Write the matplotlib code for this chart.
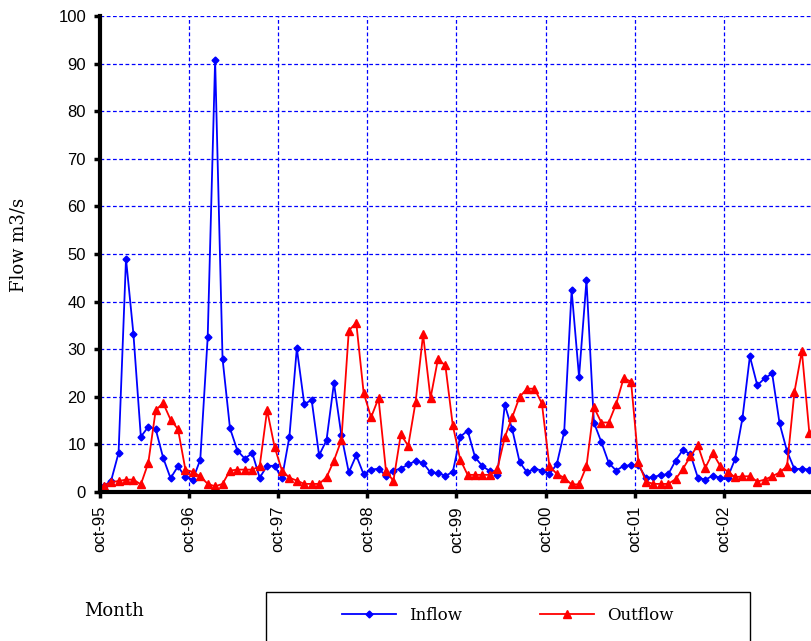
import numpy as np
import matplotlib.pyplot as plt
from matplotlib.patches import Rectangle

# monthly flows, oct-95 .. sep-03
inflow = [1.2, 2.4, 8.2, 49.0, 33.2, 11.6, 13.7, 13.2, 7.2, 2.9, 5.4, 3.1,
          2.6, 6.8, 32.5, 90.8, 28.0, 13.4, 8.7, 7.0, 8.2, 3.0, 5.5, 5.5,
          2.9, 11.6, 30.2, 18.5, 19.3, 7.7, 10.9, 22.9, 11.9, 4.1, 7.7, 3.7,
          4.7, 4.9, 3.4, 4.5, 4.9, 5.8, 6.5, 6.1, 4.1, 4.0, 3.4, 4.2,
          11.6, 12.9, 7.3, 5.4, 4.4, 3.6, 18.3, 13.2, 6.3, 4.1, 4.9, 4.5,
          3.8, 5.8, 12.6, 42.4, 24.2, 44.5, 14.6, 10.5, 6.1, 4.5, 5.5, 5.6,
          5.6, 3.0, 3.1, 3.6, 3.7, 6.6, 8.9, 7.9, 3.0, 2.6, 3.4, 3.0,
          3.0, 6.9, 15.5, 28.5, 22.4, 23.9, 24.9, 14.4, 8.6, 4.8, 4.9, 4.7]
outflow = [1.3, 2.1, 2.3, 2.6, 2.6, 1.6, 6.1, 17.2, 18.7, 15.2, 13.2, 4.7,
           4.2, 3.3, 1.7, 1.2, 1.7, 4.5, 4.7, 4.7, 4.7, 5.4, 17.2, 9.5,
           4.5, 3.0, 2.4, 1.7, 1.7, 1.7, 3.1, 6.6, 10.9, 33.9, 35.6, 20.8,
           15.7, 19.7, 4.5, 2.3, 12.1, 9.7, 19.0, 33.1, 19.7, 27.9, 26.6, 14.0,
           6.8, 3.6, 3.6, 3.6, 3.6, 4.8, 11.5, 15.7, 20.0, 21.7, 21.7, 18.6,
           5.5, 3.8, 3.0, 1.6, 1.6, 5.4, 17.8, 14.6, 14.6, 18.5, 23.9, 23.2,
           6.2, 2.2, 1.7, 1.7, 1.7, 2.7, 4.9, 7.5, 9.8, 5.1, 8.2, 5.5,
           4.3, 3.1, 3.3, 3.3, 2.2, 2.6, 3.3, 4.1, 5.4, 21.0, 29.6, 12.5]
year_labels = ['oct-95', 'oct-96', 'oct-97', 'oct-98', 'oct-99',
               'oct-00', 'oct-01', 'oct-02']

months = np.arange(len(inflow)) + 0.5

fig = plt.figure(figsize=(8.12, 6.41), dpi=100)
ax = fig.add_axes([100/812, 1 - 492/641, 713/812, 476/641])

ax.plot(months, inflow, color='#0000FF', lw=1.3, marker='D', ms=3.5,
        label='Inflow')
ax.plot(months, outflow, color='#FF0000', lw=1.3, marker='^', ms=5.5,
        label='Outflow')

ax.set_xlim(0, 96)
ax.set_ylim(0, 100)
ax.set_yticks(np.arange(0, 101, 10))
ax.set_xticks(np.arange(0, 12 * len(year_labels), 12))
ax.set_xticklabels(year_labels, rotation=90, family='Liberation Sans',
                   fontsize=12)
for lab in ax.get_yticklabels():
    lab.set_family('Liberation Sans')
    lab.set_fontsize(12)

ax.grid(True, color='#0000FF', ls=(0, (3, 2)), lw=0.9)
ax.set_axisbelow(True)
ax.spines['top'].set_visible(False)
ax.spines['right'].set_visible(False)
ax.spines['left'].set_linewidth(3)
ax.spines['bottom'].set_linewidth(3)
ax.tick_params(axis='both', direction='out', length=4, width=2.5,
               color='black', pad=6)

ax.set_ylabel('Flow m3/s', family='DejaVu Serif', fontsize=13)
ax.yaxis.set_label_coords(-72/713, 0.519)

fig.text(84/812, 1 - 611/641, 'Month', family='DejaVu Serif', fontsize=13,
         va='center', ha='left')

# legend box at the bottom
fig.patches.append(Rectangle((266/812, 1 - 660/641), 484/812, 68/641,
                             transform=fig.transFigure, fill=False,
                             edgecolor='black', lw=1))
leg = fig.legend(loc='center', bbox_to_anchor=(508/812, 1 - 615/641),
                 ncol=2, frameon=False, handlelength=3.2, columnspacing=4.7,
                 prop={'family': 'DejaVu Serif', 'size': 12})

fig.savefig('out.png', dpi=100)
